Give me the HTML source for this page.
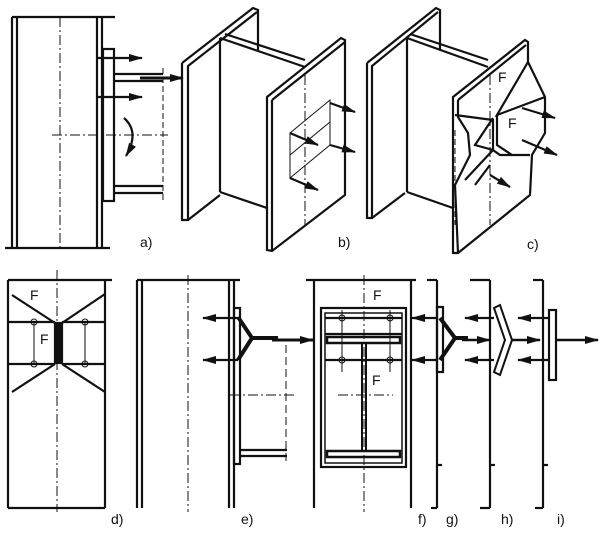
<!DOCTYPE html>
<html><head><meta charset="utf-8"><style>
html,body{margin:0;padding:0;background:#fff;width:606px;height:539px;overflow:hidden}
text{font-family:"Liberation Sans",sans-serif;font-size:14px;fill:#111}
</style></head><body>
<svg width="606" height="539" viewBox="0 0 606 539" xmlns="http://www.w3.org/2000/svg">
<defs>
<marker id="ab" markerWidth="14" markerHeight="8" refX="13" refY="4" orient="auto" markerUnits="userSpaceOnUse"><path d="M0,0 L14,4 L0,8 z" fill="#111"/></marker></defs>
<g stroke="#111" fill="none" stroke-width="2.2">
<!-- a -->
<line x1="12" y1="17" x2="115" y2="17"/><line x1="5" y1="248" x2="110" y2="248"/>
<line x1="12" y1="17" x2="12" y2="248"/><line x1="17" y1="17" x2="17" y2="248"/>
<line x1="97" y1="17" x2="97" y2="248"/><line x1="102" y1="17" x2="102" y2="248"/>
<line x1="60" y1="17" x2="60" y2="248" stroke-width="1" stroke-dasharray="10,3,2,3"/>
<rect x="103" y="49" width="11" height="152"/>
<line x1="114" y1="74" x2="163" y2="74"/><line x1="114" y1="81" x2="163" y2="81"/>
<line x1="114" y1="186" x2="163" y2="186"/><line x1="114" y1="193" x2="163" y2="193"/>
<line x1="163" y1="68" x2="163" y2="200" stroke-width="1" stroke-dasharray="6,3"/>
<line x1="52" y1="135" x2="168" y2="135" stroke-width="1" stroke-dasharray="10,3,2,3"/>
<line x1="98" y1="58" x2="142" y2="58" marker-end="url(#ab)"/>
<line x1="98" y1="97" x2="142" y2="97" marker-end="url(#ab)"/>
<line x1="140" y1="78" x2="183" y2="78" stroke-width="3" marker-end="url(#ab)"/>
<path d="M124,118 Q140,132 126,156" marker-end="url(#ab)"/>
<!-- b -->
<path d="M182,63 L253,8 L258,10 L258,50"/><path d="M182,63 L182,220 L188,220 L188,66 L257,12"/>
<path d="M188,220 L220,195"/>
<line x1="220" y1="38" x2="220" y2="192"/><path d="M220,38 L305,67"/><path d="M220,192 L267,208"/>
<path d="M225,34 L305,60"/>
<path d="M267,97 L341,38 L345,40 L345,195 L272,251 L267,250 Z"/><line x1="272" y1="100" x2="272" y2="251"/><line x1="272" y1="100" x2="345" y2="42"/>
<line x1="305" y1="75" x2="305" y2="225" stroke-width="1" stroke-dasharray="10,3,2,3"/>
<path d="M290,133 L330,100 L330,145 L290,178 Z" stroke-width="1"/><line x1="290" y1="155" x2="330" y2="122" stroke-width="1"/>
<line x1="290" y1="133" x2="318" y2="145" marker-end="url(#ab)"/><line x1="290" y1="178" x2="318" y2="190" marker-end="url(#ab)"/>
<line x1="330" y1="103" x2="355" y2="112" marker-end="url(#ab)"/><line x1="330" y1="145" x2="355" y2="152" marker-end="url(#ab)"/>
<!-- c -->
<path d="M367,63 L436,8 L440,10 L440,50"/><path d="M367,63 L367,218 L372,218 L372,66 L438,12"/>
<path d="M372,218 L405,193"/>
<line x1="407" y1="38" x2="407" y2="192"/><path d="M407,38 L488,67"/><path d="M410,34 L488,60"/><path d="M407,192 L453,208"/>
<path d="M453,97 L525,40 L528,42 L528,62 L545,97 L545,133 L532,155 L530,195 L458,253 L453,253 Z"/><line x1="458" y1="100" x2="526" y2="45"/>
<path d="M458,100 L458,117 L468,133 L470,155 L455,185 L458,253"/>
<path d="M455,115 L493,120 L493,150 L500,155 L530,155"/><path d="M493,118 L475,145 L493,150"/>
<path d="M528,62 L497,115 L545,97"/><path d="M497,115 L497,145 L512,155"/><path d="M493,150 L465,180"/>
<line x1="490" y1="75" x2="490" y2="225" stroke-width="1" stroke-dasharray="10,3,2,3"/>
<line x1="455" y1="130" x2="455" y2="225" stroke-width="1" stroke-dasharray="6,3"/>
<line x1="522" y1="108" x2="555" y2="118" marker-end="url(#ab)"/><line x1="522" y1="140" x2="557" y2="155" marker-end="url(#ab)"/>
<line x1="490" y1="165" x2="475" y2="185"/><line x1="490" y1="175" x2="510" y2="187" marker-end="url(#ab)"/>
<!-- d -->
<line x1="8" y1="280" x2="112" y2="280"/><line x1="8" y1="280" x2="8" y2="508"/><line x1="105" y1="280" x2="105" y2="508"/><line x1="8" y1="508" x2="105" y2="508"/>
<line x1="57" y1="270" x2="57" y2="512" stroke-width="1" stroke-dasharray="10,3,2,3"/>
<path d="M12,295 L55,323 M105,294 L62,323 M55,364 L12,392 M62,364 L105,392"/>
<line x1="8" y1="322" x2="55" y2="322"/><line x1="62" y1="322" x2="105" y2="322"/>
<line x1="8" y1="364" x2="55" y2="364"/><line x1="62" y1="364" x2="105" y2="364"/>
<rect x="55" y="323" width="7" height="40" fill="#111"/>
<line x1="34" y1="322" x2="34" y2="364" stroke-width="1"/><line x1="85" y1="322" x2="85" y2="364" stroke-width="1"/>
<g stroke-width="1"><circle cx="34" cy="322" r="3"/><circle cx="85" cy="322" r="3"/><circle cx="34" cy="364" r="3"/><circle cx="85" cy="364" r="3"/></g>
<!-- e -->
<line x1="137" y1="280" x2="240" y2="280"/><line x1="137" y1="280" x2="137" y2="508"/><line x1="142" y1="280" x2="142" y2="508"/>
<line x1="188" y1="275" x2="188" y2="512" stroke-width="1" stroke-dasharray="10,3,2,3"/>
<line x1="229" y1="280" x2="229" y2="508"/><line x1="234" y1="280" x2="234" y2="508"/>
<rect x="234" y="308" width="6" height="156"/>
<path d="M238,317 L252,338 L278,338 M238,360 L252,338" stroke-width="4"/>
<line x1="238" y1="318" x2="203" y2="318" marker-end="url(#ab)"/><line x1="238" y1="360" x2="203" y2="360" marker-end="url(#ab)"/>
<line x1="272" y1="340" x2="313" y2="340" stroke-width="3" marker-end="url(#ab)"/>
<line x1="286" y1="345" x2="286" y2="465" stroke-width="1" stroke-dasharray="8,4"/>
<line x1="230" y1="395" x2="295" y2="395" stroke-width="1" stroke-dasharray="10,3,2,3"/>
<line x1="240" y1="450" x2="287" y2="450"/><line x1="240" y1="456" x2="287" y2="456"/>
<!-- f -->
<line x1="306" y1="280" x2="416" y2="280"/><line x1="314" y1="280" x2="314" y2="508"/><line x1="411" y1="280" x2="411" y2="508"/>
<line x1="364" y1="275" x2="364" y2="512" stroke-width="1" stroke-dasharray="10,3,2,3"/>
<rect x="321" y="308" width="85" height="159"/><rect x="325" y="313" width="77" height="150" stroke-width="1.5"/>
<line x1="325" y1="318" x2="402" y2="318"/><line x1="325" y1="334" x2="402" y2="334"/>
<rect x="327" y="337" width="73" height="6" stroke-width="2.5"/>
<line x1="325" y1="360" x2="402" y2="360"/>
<rect x="362" y="343" width="4" height="108" stroke-width="2"/>
<rect x="327" y="451" width="73" height="6" stroke-width="2.5"/>
<line x1="342" y1="310" x2="342" y2="372" stroke-width="1"/><line x1="390" y1="310" x2="390" y2="372" stroke-width="1"/>
<g stroke-width="1"><circle cx="342" cy="318" r="3"/><circle cx="390" cy="318" r="3"/><circle cx="342" cy="360" r="3"/><circle cx="390" cy="360" r="3"/></g>
<line x1="338" y1="395" x2="393" y2="395" stroke-width="1" stroke-dasharray="10,3,2,3"/>
<!-- g -->
<line x1="427" y1="280" x2="437" y2="280"/><line x1="437" y1="280" x2="437" y2="508"/><line x1="431" y1="508" x2="437" y2="508"/>
<rect x="437" y="307" width="6" height="65"/>
<path d="M440,318 L455,338 L468,338 M440,360 L455,338" stroke-width="4"/>
<line x1="437" y1="318" x2="412" y2="318" marker-end="url(#ab)"/><line x1="437" y1="360" x2="412" y2="360" marker-end="url(#ab)"/>
<line x1="462" y1="340" x2="490" y2="340" stroke-width="2.5" marker-end="url(#ab)"/>
<line x1="437" y1="465" x2="442" y2="465"/>
<!-- h -->
<line x1="470" y1="280" x2="490" y2="280"/><line x1="490" y1="280" x2="490" y2="508"/><line x1="480" y1="508" x2="490" y2="508"/>
<path d="M494,308 L500,305 L512,340 L500,375 L494,372 L505,340 Z" stroke-width="2"/>
<line x1="494" y1="318" x2="465" y2="318" marker-end="url(#ab)"/><line x1="494" y1="360" x2="465" y2="360" marker-end="url(#ab)"/>
<line x1="511" y1="340" x2="540" y2="340" stroke-width="2.5" marker-end="url(#ab)"/>
<line x1="490" y1="465" x2="495" y2="465"/>
<!-- i -->
<line x1="533" y1="280" x2="543" y2="280"/><line x1="543" y1="280" x2="543" y2="508"/><line x1="535" y1="508" x2="543" y2="508"/>
<rect x="549" y="310" width="7" height="70"/>
<line x1="549" y1="318" x2="518" y2="318" marker-end="url(#ab)"/><line x1="549" y1="360" x2="518" y2="360" marker-end="url(#ab)"/>
<line x1="556" y1="340" x2="598" y2="340" stroke-width="2.5" marker-end="url(#ab)"/>
<line x1="543" y1="465" x2="548" y2="465"/>
</g>
<text x="140" y="247">a)</text><text x="338" y="247">b)</text><text x="527" y="249">c)</text>
<text x="111" y="524">d)</text><text x="241" y="524">e)</text><text x="418" y="524">f)</text>
<text x="446" y="524">g)</text><text x="501" y="524">h)</text><text x="557" y="524">i)</text>
<text x="30" y="300">F</text><text x="40" y="344">F</text><text x="373" y="300">F</text><text x="372" y="385">F</text>
<text x="498" y="82">F</text><text x="508" y="128">F</text>
</svg>
</body></html>
